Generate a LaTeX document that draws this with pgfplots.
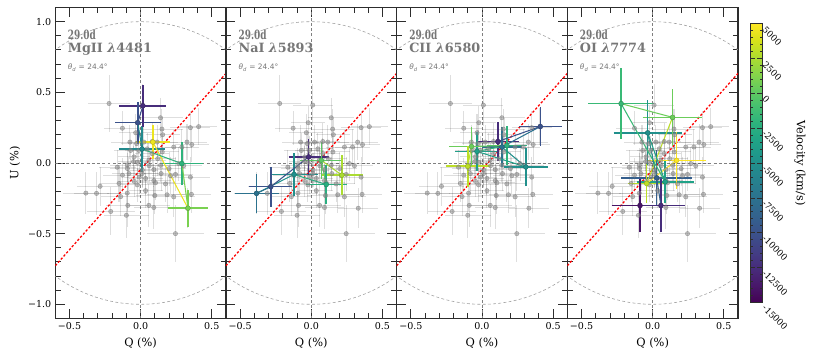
\documentclass[border=0pt]{standalone}
\usepackage{fontspec}
\setmainfont{DejaVu Serif}
\newfontfamily\djsans{DejaVu Sans}
\usepackage{graphicx}
\usepackage{pgfplots}
\pgfplotsset{compat=1.18}
\usepackage{pgfplotstable}
\usepgfplotslibrary{groupplots}

\definecolor{txtgray}{RGB}{118,118,118}
\definecolor{framegray}{RGB}{45,45,45}

% all-wavelength points, same in every panel
\pgfplotstableread{
q u eq eu
-0.222 0.421 0.15 0.20
0.010 0.410 0.14 0.15
-0.022 0.285 0.12 0.12
0.140 0.320 0.16 0.14
-0.128 0.246 0.13 0.12
-0.035 0.214 0.12 0.13
0.150 0.240 0.15 0.14
0.350 0.250 0.14 0.12
0.408 0.257 0.13 0.13
0.155 0.200 0.12 0.12
-0.075 0.148 0.13 0.12
-0.028 0.137 0.11 0.10
0.023 0.148 0.12 0.12
0.081 0.152 0.12 0.13
0.116 0.148 0.15 0.12
0.233 0.113 0.13 0.12
0.290 0.113 0.12 0.13
0.326 0.148 0.14 0.13
0.360 0.130 0.12 0.12
-0.070 0.089 0.12 0.12
-0.012 0.089 0.10 0.10
0.046 0.100 0.11 0.11
0.081 0.066 0.12 0.11
0.152 0.078 0.12 0.12
-0.047 0.043 0.11 0.10
0.058 0.020 0.12 0.12
0.268 -0.004 0.13 0.12
0.303 -0.020 0.13 0.13
-0.094 -0.016 0.12 0.12
-0.024 0.005 0.10 0.10
0.140 -0.016 0.12 0.12
-0.093 -0.039 0.12 0.11
0.012 -0.050 0.11 0.12
0.093 -0.047 0.12 0.12
-0.128 -0.086 0.14 0.12
-0.082 -0.075 0.12 0.12
0.011 -0.075 0.11 0.10
0.144 -0.075 0.12 0.12
0.245 -0.081 0.12 0.12
0.210 -0.090 0.13 0.13
0.350 -0.100 0.14 0.14
0.035 -0.109 0.12 0.12
0.093 -0.125 0.12 0.12
-0.152 -0.145 0.14 0.13
-0.024 -0.155 0.12 0.12
0.105 -0.140 0.13 0.12
0.175 -0.148 0.13 0.13
-0.285 -0.165 0.16 0.14
0.035 -0.196 0.12 0.12
-0.385 -0.213 0.16 0.15
-0.310 -0.215 0.16 0.15
-0.094 -0.213 0.14 0.13
0.186 -0.225 0.14 0.13
0.233 -0.240 0.15 0.14
0.357 -0.222 0.14 0.13
-0.140 -0.238 0.14 0.14
-0.210 -0.343 0.17 0.17
-0.090 -0.300 0.15 0.15
-0.100 -0.370 0.16 0.16
0.058 -0.300 0.15 0.15
0.093 -0.315 0.14 0.15
0.330 -0.320 0.14 0.14
0.245 -0.500 0.20 0.20
0.100 -0.230 0.13 0.13
-0.165 -0.030 0.13 0.12
-0.045 -0.130 0.11 0.11
-0.050 0.010 0.11 0.11
0.060 -0.020 0.12 0.11
0.120 0.030 0.13 0.12
-0.010 -0.100 0.11 0.12
0.200 -0.040 0.12 0.12
}\graydata

% line bins, listed from high to low velocity
\pgfplotstableread{
q u eq eu v
0.086 0.148 0.12 0.12 4500
0.333 -0.320 0.14 0.13 1000
0.290 -0.004 0.15 0.15 -2000
0.010 0.099 0.16 0.16 -5500
-0.020 0.285 0.16 0.15 -10000
0.016 0.405 0.165 0.15 -12500
}\mgii

\pgfplotstableread{
q u eq eu v
0.215 -0.086 0.15 0.14 2500
0.070 0.019 0.15 0.13 0
0.105 -0.152 0.145 0.14 -2500
-0.121 -0.081 0.165 0.15 -5000
-0.385 -0.215 0.155 0.14 -7500
-0.285 -0.168 0.15 0.14 -10000
-0.019 0.043 0.14 0.13 -12500
}\nai

\pgfplotstableread{
q u eq eu v
-0.100 -0.023 0.155 0.145 3000
-0.074 0.117 0.155 0.14 500
0.175 0.124 0.14 0.14 -2000
-0.035 0.082 0.155 0.14 -3750
0.308 -0.028 0.155 0.135 -5000
0.140 0.113 0.14 0.14 -7500
0.410 0.258 0.15 0.135 -10000
0.112 0.152 0.15 0.14 -12500
}\cii

\pgfplotstableread{
q u eq eu v
0.168 0.019 0.21 0.20 5000
-0.042 -0.145 0.13 0.14 3000
0.140 0.323 0.21 0.20 500
-0.222 0.420 0.23 0.25 -1500
0.088 -0.133 0.20 0.15 -3500
-0.035 0.213 0.24 0.23 -5000
0.028 -0.105 0.25 0.20 -9000
0.058 -0.301 0.17 0.19 -12500
-0.089 -0.301 0.20 0.19 -14000
}\oi

\newcommand{\panel}[2]{%
  \draw[gray!75, dash pattern=on 2.5pt off 2pt, line width=0.5pt]
    (axis cs:0,0) ellipse [x radius=1, y radius=1];
  \addplot[black!50, dash pattern=on 2.5pt off 2pt, line width=0.5pt] coordinates {(0,-1.1) (0,1.1)};
  \addplot[black!50, dash pattern=on 2.5pt off 2pt, line width=0.5pt] coordinates {(-0.6,0) (0.6,0)};
  \addplot[only marks, mark=*, mark size=1.9pt,
    mark options={fill=black!45, draw=black!55, opacity=0.55},
    error bars/.cd, x dir=both, x explicit, y dir=both, y explicit,
    error mark=none, error bar style={black, opacity=0.13, line width=0.9pt}]
    table[x=q, y=u, x error=eq, y error=eu] {\graydata};
  \addplot[red, dash pattern=on 2pt off 1.6pt, line width=1.1pt] coordinates {(-0.6,-0.727) (0.6,0.634)};
  % coloured error bars, one horizontal and one vertical segment per bin
  \addplot[quiver={u=2*\thisrow{eq}, v=0, colored}, -, line width=1.3pt, point meta=explicit]
    table[x expr=\thisrow{q}-\thisrow{eq}, y=u, meta=v] {#1};
  \addplot[quiver={u=0, v=2*\thisrow{eu}, colored}, -, line width=1.3pt, point meta=explicit]
    table[x=q, y expr=\thisrow{u}-\thisrow{eu}, meta=v] {#1};
  \addplot[mesh, shader=flat corner, point meta=explicit, line width=0.9pt]
    table[x=q, y=u, meta=v] {#1};
  \addplot[scatter, only marks, mark=*, mark size=2.1pt, point meta=explicit]
    table[x=q, y=u, meta=v] {#1};
  \node[anchor=base west, text=txtgray, font=\fontsize{11}{13}\selectfont\bfseries]
    at (rel axis cs:0.05,0.898) {\scalebox{0.7}[1]{29.0d}};
  \node[anchor=base west, text=txtgray, font=\fontsize{11}{13}\selectfont\bfseries]
    at (rel axis cs:0.05,0.855) {#2};
  \node[anchor=base west, text=txtgray, font=\djsans\fontsize{6.4}{8}\selectfont]
    at (rel axis cs:0.05,0.80) {\textit{θ}\textsubscript{\textit{d}} = 24.4°};
}

\begin{document}
\begin{tikzpicture}
\begin{groupplot}[
  group style={group size=4 by 1, horizontal sep=0pt, y descriptions at=edge left},
  scale only axis, width=147pt, height=267.75pt,
  xmin=-0.6, xmax=0.6, ymin=-1.1, ymax=1.1,
  axis line style={framegray, line width=1pt},
  tick style={framegray, line width=0.8pt},
  major tick length=8pt, minor tick length=4.5pt, tick align=inside,
  xtick={-0.5,0,0.5}, xticklabels={−0.5,0.0,0.5},
  ytick={-1,-0.5,0,0.5,1}, yticklabels={−1.0,−0.5,0.0,0.5,1.0},
  minor x tick num=4, minor y tick num=4,
  tick label style={font=\fontsize{8.2}{9}\selectfont},
  label style={font=\fontsize{9.8}{11}\selectfont},
  xlabel={Q (\%)}, ylabel={U (\%)},
  colormap/viridis, point meta min=-15000, point meta max=5000,
]
\nextgroupplot
\panel{\mgii}{MgII \textit{λ}4481}
\nextgroupplot
\panel{\nai}{NaI \textit{λ}5893}
\nextgroupplot
\panel{\cii}{CII \textit{λ}6580}
\nextgroupplot[colorbar, colorbar style={
    width=9.8pt, height=240pt, at={(parent axis.east)}, anchor=west, xshift=2.3pt,
    scaled y ticks=false,
    ytick={-15000,-12500,-10000,-7500,-5000,-2500,0,2500,5000},
    yticklabels={-15000,-12500,-10000,-7500,-5000,-2500,0,2500,5000},
    minor y tick num=4, tick align=inside,
    major tick length=4pt, minor tick length=2pt,
    tick style={framegray, line width=0.5pt},
    axis line style={framegray, line width=0.6pt},
    yticklabel style={xshift=4pt, rotate=-45, anchor=north west, inner sep=1pt,
      font=\fontsize{7.6}{9}\selectfont},
    ylabel={Velocity (km/s)},
    ylabel style={rotate=180, font=\fontsize{9.8}{11}\selectfont},
  }]
\panel{\oi}{OI \textit{λ}7774}
\end{groupplot}
\path ([shift={(-5pt,0pt)}]current bounding box.south west)
  rectangle ([shift={(4pt,6pt)}]current bounding box.north east);
\end{tikzpicture}
\end{document}
